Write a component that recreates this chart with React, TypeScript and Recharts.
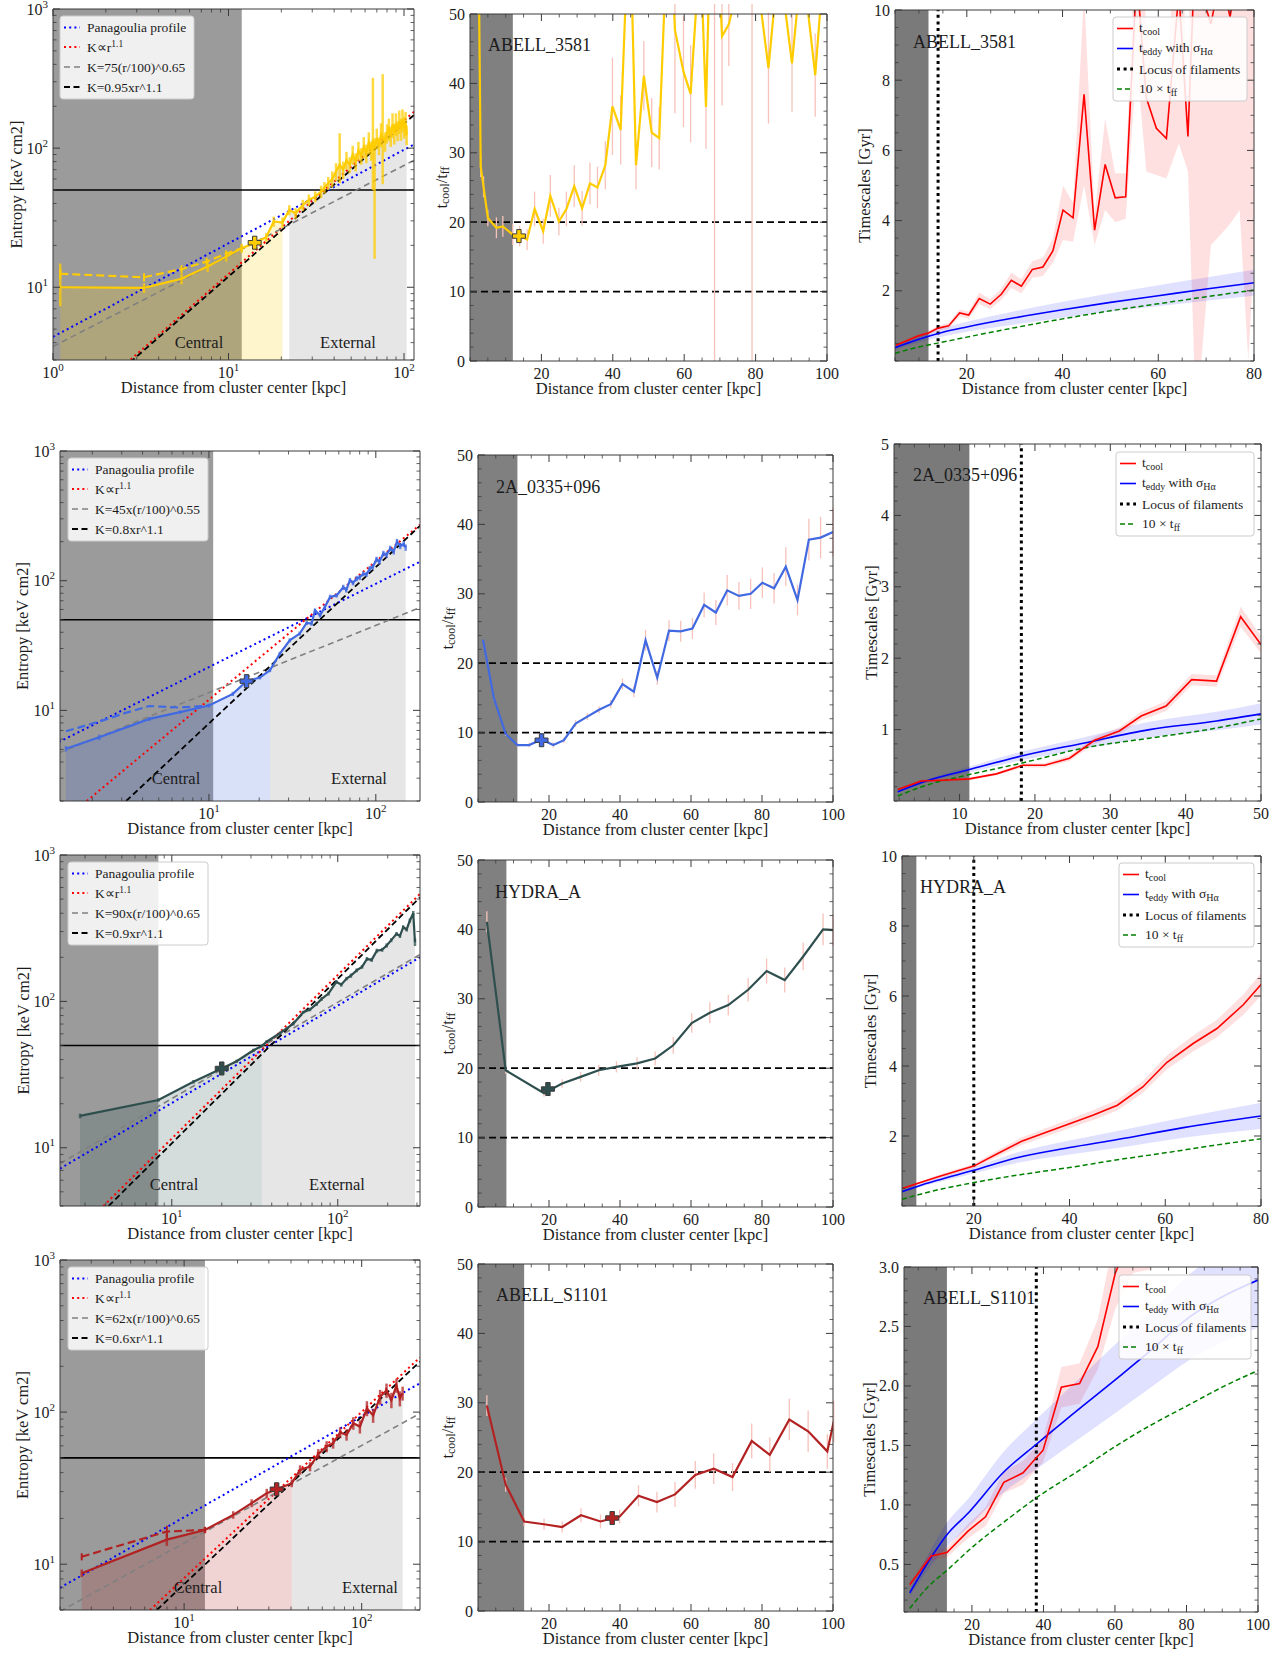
import React from 'react';
import { ComposedChart, Line, Area, XAxis, YAxis, ReferenceLine, ErrorBar } from 'recharts';

const FONT = '"Liberation Serif", "Times New Roman", serif';
const INK = '#1c1c1c';
const EDGE = '#3a3a3a';
const ML = 45;
const MR = 18;
const MT = 10;
const MB = 30;

// ---------- tick labels ----------
const LOG_TICKS = [1, 10, 100, 1000];
const RATIO_X_TICKS = [20, 40, 60, 80, 100];
const RATIO_Y_TICKS = [0, 10, 20, 30, 40, 50];
const TIME_X_80 = [20, 40, 60, 80];
const TIME_X_50 = [10, 20, 30, 40, 50];
const TIME_X_100 = [20, 40, 60, 80, 100];
const TIME_Y_10 = [2, 4, 6, 8, 10];
const TIME_Y_5 = [1, 2, 3, 4, 5];
const TIME_Y_3 = [0.5, 1.0, 1.5, 2.0, 2.5, 3.0];
const RATIO_LINES = [10, 20];
const K_LINE = 50;

// ---------- ABELL_3581 ----------
// r [kpc], K [keV cm2], err low, err high
const A3581_K = [
  [1.1, 10.0, 2.7, 4.8], [3.3, 9.9, 0.8], [5.4, 11.5, 1.0], [7.6, 14.1, 1.2], [9.7, 16.6, 1.3],
  [11.9, 19.1, 1.4], [14.1, 20.9, 1.5], [16.4, 22.9, 1.6], [18.1, 29.7, 2.5], [20.3, 29.2, 2.5],
  [22.2, 35.9, 3], [24.1, 34, 3], [26.5, 39, 3.5], [28.7, 42.4, 4], [31.2, 44.8, 4],
  [33.7, 48.7, 5], [35.2, 52, 5], [37, 56, 6], [39, 60, 8], [41, 68, 10],
  [43, 76, 20, 52], [45, 70, 10], [47, 82, 12], [49, 76, 10], [51, 90, 14],
  [53, 80, 12], [55, 96, 15], [57, 88, 12], [59, 102, 18], [61, 92, 14],
  [63, 110, 20], [65, 96, 15], [66.5, 115, 65, 205], [68, 100, 84, 18], [70, 118, 20],
  [72, 104, 15], [74, 126, 25], [75.6, 120, 65, 220], [78, 112, 18], [80, 128, 20],
  [82, 138, 25], [84, 122, 20], [86, 148, 30], [88, 128, 22], [90, 150, 28],
  [92, 134, 22], [94, 156, 30], [96, 138, 25], [98, 160, 30], [100, 142, 25],
  [102, 152, 30], [103.5, 125, 20],
];
const A3581_K_IN = [[1.1, 12.5, 1.0], [3.3, 11.8, 0.8], [5.4, 13.5, 0.9], [7.5, 15.3, 1.0], [9.7, 17.4, 1.0], [11.9, 19.1, 1.0]];
const A3581_PANAGOULIA = [[1, 4.4], [120, 110]];
const A3581_K11 = [[2.5, 2.7], [120, 193]];
const A3581_FIT_A = [[1, 3.75], [120, 84.5]];
const A3581_FIT_B = [[2.5, 2.6], [120, 183]];
const A3581_RATIO = [
  [2.0, 80, 0], [3.0, 28.0, 1.5], [3.8, 25.1, 1.5], [5.0, 20.6, 1.2], [7.4, 19.2, 1.5],
  [9.2, 19.4, 1.5], [12.0, 18.2, 1.5], [13.9, 18.0, 1.5], [16.0, 17.5, 1.5], [18.1, 21.9, 2.5],
  [20.5, 18.7, 1.8], [22.5, 23.8, 3], [24.9, 20.1, 2], [27.0, 21.9, 2.5], [29.2, 25.2, 3],
  [31.4, 22.0, 2.5], [33.6, 25.6, 3], [35.7, 25.0, 3], [37.9, 28.2, 3.5], [39.9, 36.7, 7],
  [42.2, 33.3, 5], [43.9, 56, 0], [45.2, 56, 0], [46.5, 28.2, 3.5], [48.7, 41.1, 5],
  [50.9, 32.9, 5], [53.0, 32.1, 4.5], [55.5, 65, 0], [56.8, 55, 0], [57.4, 47.7, 12],
  [59.8, 41.7, 8], [61.8, 38.5, 7], [64.5, 60, 0], [66.1, 36.6, 6], [67.5, 65, 0],
  [68.5, 70, 70], [70.6, 46.8, 10], [72.5, 48.5, 6], [75.5, 55, 0], [79.0, 62, 62],
  [81.2, 52, 0], [83.6, 42.2, 8], [86.5, 58, 0], [90.2, 42.9, 7], [93.0, 58, 0],
  [96.7, 41.2, 6], [99.5, 60, 0],
];
const A3581_TCOOL = [
  [5.2, 0.45, 0.42, 0.48], [9.8, 0.71, 0.66, 0.76], [12.0, 0.8, 0.74, 0.86], [13.9, 0.93, 0.86, 1.0],
  [16.2, 1.0, 0.92, 1.08], [18.5, 1.37, 1.27, 1.47], [20.4, 1.31, 1.21, 1.41], [22.6, 1.78, 1.62, 1.95],
  [24.9, 1.62, 1.48, 1.76], [27.2, 1.9, 1.74, 2.06], [29.3, 2.3, 2.08, 2.52], [31.4, 2.13, 1.93, 2.33],
  [33.7, 2.61, 2.37, 2.85], [35.9, 2.68, 2.42, 2.94], [38.0, 3.14, 2.8, 3.5], [40.1, 4.3, 3.45, 5.0],
  [42.2, 4.08, 3.4, 4.5], [44.5, 7.6, 5.0, 10.5], [46.7, 3.73, 3.3, 4.2], [48.9, 5.6, 4.3, 6.9],
  [51.0, 4.65, 3.95, 5.35], [53.2, 4.68, 4.05, 5.35], [55.5, 11.0, 8.5, 13.0], [57.5, 7.5, 5.4, 9.6],
  [59.6, 6.63, 5.3, 8.0], [61.7, 6.34, 5.2, 7.6], [64.3, 10.5, 6.2, 14.0], [66.2, 6.4, 5.4, 7.5],
  [67.5, 11.0, 0, 20], [69.0, 10.5, 0, 20], [71.0, 9.6, 3.3, 12.5], [73.0, 11.0, 3.6, 15.0],
  [75.0, 9.8, 3.9, 12.5], [77.0, 11.5, 4.3, 15.0], [78.8, 10.5, 0, 20], [80.0, 11.0, 3.0, 18.0],
];
const A3581_TEDDY = [
  [5, 0.38, 0.33, 0.43], [10, 0.62, 0.53, 0.71], [15, 0.82, 0.7, 0.94], [20, 0.97, 0.83, 1.12],
  [30, 1.23, 1.04, 1.42], [40, 1.46, 1.23, 1.69], [50, 1.67, 1.41, 1.93], [60, 1.86, 1.56, 2.16],
  [70, 2.05, 1.72, 2.38], [80, 2.23, 1.86, 2.6],
];
const A3581_TFF10 = [[5, 0.22], [10, 0.4], [15, 0.54], [20, 0.68], [30, 0.95], [40, 1.2], [50, 1.43], [60, 1.63], [70, 1.83], [80, 2.02]];

// ---------- 2A_0335+096 ----------
const A0335_K = [
  [1.39, 5.06, 0.25], [2.2, 6.2, 0.3], [4.4, 8.6, 0.3], [6.7, 9.7, 0.3], [10, 10.9, 0.4],
  [13.9, 13.4, 0.5], [16.8, 16.8, 0.6], [20.2, 17.9, 0.6], [23.2, 20.4, 0.7], [26.6, 27.4, 0.9],
  [30.5, 34.7, 1.2], [35, 39.1, 1.4], [38.5, 47.2, 1.6], [41.2, 46.7, 1.8], [43.2, 59, 2],
  [46.3, 54, 2], [49.5, 62.7, 2.5], [53.2, 75, 3], [58.2, 77, 3], [63.8, 89, 4],
  [66.5, 85, 4], [70, 101, 4], [73, 96, 4], [76.8, 104, 5], [80, 106, 5],
  [84, 113, 5], [88, 112, 5], [92, 124, 6], [96, 128, 6], [101, 146, 7],
  [105, 140, 7], [111, 162, 8], [116, 158, 8], [122, 177, 9], [128, 168, 9],
  [134, 200, 10], [140, 185, 10], [147, 192, 10], [151, 180, 10],
];
const A0335_K_IN = [[1.39, 6.9], [2.2, 8.2], [3.2, 9.6], [4.4, 10.8], [6.7, 10.5], [10, 10.9]];
const A0335_PANAGOULIA = [[1.26, 5.7], [184, 140]];
const A0335_K11 = [[1.85, 2.0], [184, 270]];
const A0335_FIT_A = [[1.26, 4.7], [184, 62]];
const A0335_FIT_B = [[3.19, 2.0], [184, 265]];
const A0335_RATIO = [
  [1.4, 23.4, 0], [4.5, 14.9, 0.3], [7.8, 9.8, 0.3], [11.1, 8.2, 0.3], [14.4, 8.2, 0.3],
  [17.9, 9.0, 0.4], [21.2, 8.2, 0.4], [24.2, 8.9, 0.4], [27.5, 11.3, 0.5], [30.8, 12.3, 0.5],
  [34.1, 13.3, 0.5], [37.4, 14.1, 0.6], [40.7, 17.0, 0.8], [43.9, 15.9, 0.8], [47.2, 23.3, 1.5],
  [50.5, 17.9, 1], [53.8, 24.7, 1.5], [57.1, 24.6, 1.5], [60.4, 25.0, 1.5], [63.7, 28.4, 1.8],
  [67, 27.3, 1.8], [70.2, 30.5, 2.2], [73.5, 29.7, 2], [76.8, 30.0, 2.2], [80.1, 31.6, 2.2],
  [83.4, 30.8, 2.2], [86.7, 33.9, 2.8], [90, 29.1, 2.2], [93.2, 37.8, 3], [96.5, 38.1, 3],
  [100, 38.9, 3.5],
];
const A0335_TCOOL = [
  [1.8, 0.16, 0.15, 0.17], [4.9, 0.28, 0.26, 0.3], [7.8, 0.29, 0.27, 0.31], [11.3, 0.31, 0.29, 0.33],
  [14.9, 0.38, 0.36, 0.4], [18.4, 0.5, 0.47, 0.53], [21.3, 0.5, 0.47, 0.53], [24.6, 0.6, 0.56, 0.64],
  [27.9, 0.85, 0.8, 0.9], [31.2, 0.98, 0.93, 1.03], [34.1, 1.19, 1.13, 1.25], [37.4, 1.33, 1.26, 1.4],
  [40.8, 1.7, 1.62, 1.78], [44.1, 1.68, 1.6, 1.76], [47.3, 2.58, 2.44, 2.72], [50, 2.19, 2.07, 2.31],
];
const A0335_TEDDY = [
  [1.8, 0.13, 0.12, 0.14], [5.6, 0.28, 0.26, 0.3], [11.3, 0.44, 0.4, 0.48], [18.2, 0.63, 0.57, 0.69],
  [26.4, 0.81, 0.73, 0.89], [35.2, 1.0, 0.89, 1.11], [44.1, 1.12, 0.99, 1.25], [50, 1.22, 1.07, 1.37],
];
const A0335_TFF10 = [[1.8, 0.07], [5, 0.2], [11.3, 0.37], [18.2, 0.53], [26.4, 0.74], [35.2, 0.88], [44, 1.02], [50, 1.15]];

// ---------- HYDRA_A ----------
const HYDRA_K = [
  [2.8, 16.5, 0.6], [8.3, 21.2, 0.6], [13.5, 28.2, 0.8], [20, 34.8, 1], [24.6, 39, 1],
  [31, 46.3, 1.2], [34.9, 49.6, 1.2], [37.3, 53, 1.3], [45, 60.8, 1.5], [54, 70.4, 2],
  [62, 84.4, 2], [68, 88, 2.5], [74.6, 96, 3], [80, 104, 3], [88, 113, 3.5],
  [98, 136, 4], [105, 130, 4], [113, 143, 4], [120, 150, 5], [130, 163, 5],
  [140, 172, 5], [150, 195, 6], [160, 192, 6], [172, 222, 7], [185, 225, 7],
  [197, 241, 8], [210, 262, 8], [226, 289, 9], [237, 280, 9], [248, 321, 10],
  [260, 310, 10], [272, 357, 12], [285, 400, 15], [292, 254, 15],
];
const HYDRA_PANAGOULIA = [[2.12, 7.2], [313, 200]];
const HYDRA_K11 = [[3.87, 4.0], [313, 542]];
const HYDRA_FIT_A = [[2.12, 7.8], [313, 209]];
const HYDRA_FIT_B = [[4.16, 4.0], [313, 514]];
const HYDRA_RATIO = [
  [2.5, 41.1, 1.5], [7.8, 19.7, 0.5], [18.6, 16.4, 0.5], [23.7, 17.8, 0.6], [28.9, 18.75, 0.7],
  [34, 19.7, 0.8], [39, 20.2, 0.8], [44.8, 20.7, 0.9], [49.9, 21.4, 1], [55, 23.3, 1.2],
  [60.2, 26.5, 1.4], [65.3, 28.0, 1.5], [70.5, 29.1, 1.5], [76.1, 31.3, 1.7], [81.3, 34.0, 1.8],
  [86.4, 32.7, 1.8], [91.6, 36.1, 2], [97.2, 40.0, 2.3], [100, 39.9, 2.3],
];
const HYDRA_TCOOL = [
  [5, 0.5, 0.47, 0.53], [8.2, 0.64, 0.6, 0.68], [12.4, 0.83, 0.78, 0.88], [16.5, 1.0, 0.94, 1.06],
  [20, 1.14, 1.07, 1.21], [25, 1.5, 1.41, 1.59], [30, 1.85, 1.74, 1.96], [35, 2.1, 1.98, 2.22],
  [40, 2.35, 2.22, 2.48], [45, 2.6, 2.46, 2.74], [50, 2.88, 2.73, 3.03], [55.3, 3.4, 3.23, 3.57],
  [60.3, 4.1, 3.9, 4.3], [65.9, 4.65, 4.42, 4.88], [70.8, 5.07, 4.82, 5.32], [76.3, 5.75, 5.46, 6.04],
  [80, 6.33, 6.01, 6.65],
];
const HYDRA_TEDDY = [
  [5, 0.41, 0.38, 0.44], [8.2, 0.56, 0.52, 0.6], [12, 0.72, 0.66, 0.78], [20, 1.02, 0.93, 1.11],
  [29, 1.38, 1.23, 1.53], [40, 1.67, 1.47, 1.87], [50, 1.9, 1.66, 2.14], [63.8, 2.24, 1.95, 2.53],
  [80, 2.57, 2.2, 2.95],
];
const HYDRA_TFF10 = [[5, 0.19], [10, 0.38], [20, 0.67], [30, 0.9], [40, 1.1], [50, 1.32], [60, 1.52], [70, 1.73], [80, 1.92]];

// ---------- ABELL_S1101 ----------
const S1101_K = [
  [2.65, 8.73, 0.5], [7.99, 14.5, 1.3], [13.1, 16.8, 0.8], [18.9, 21.1, 1.2], [24.0, 25.2, 1.5],
  [29.2, 29.3, 2], [33.2, 31.1, 2], [40.4, 34.1, 2], [45, 41.7, 3], [51.2, 43.8, 3],
  [57, 53.1, 4], [63.5, 59.4, 5], [69, 62.5, 5], [75.6, 73.4, 6], [82.2, 70.9, 6],
  [89.7, 84.6, 8], [97.7, 80.3, 8], [107, 106, 12], [116, 95, 10], [127, 126, 14],
  [138, 139, 15], [147, 120, 14], [157, 150, 16], [164, 123, 14], [170, 133, 14],
];
const S1101_K_IN = [[2.65, 11.2, 0.6], [8.0, 16.4, 1.5], [13.1, 16.8, 0.8]];
const S1101_PANAGOULIA = [[2.0, 7.0], [213, 155]];
const S1101_K11 = [[6.43, 5.0], [213, 229]];
const S1101_FIT_A = [[2.0, 4.9], [213, 98]];
const S1101_FIT_B = [[7.02, 5.0], [213, 215]];
const S1101_RATIO = [
  [2.5, 29.6, 1.5], [7.8, 18.2, 1], [13, 12.9, 0.7], [18.6, 12.5, 0.8], [23.7, 12.1, 0.8],
  [29, 13.8, 1], [34.5, 12.9, 1], [39.9, 13.6, 1], [45.2, 16.6, 1.5], [50.4, 15.7, 1.5],
  [55.5, 16.8, 1.8], [61.2, 19.6, 2], [66.4, 20.5, 2.2], [71.7, 19.3, 2], [77.1, 24.5, 2.5],
  [82.2, 22.5, 2.5], [87.7, 27.6, 3], [93, 25.9, 3], [98.4, 23.0, 2.5], [100.2, 27.3, 3],
];
const S1101_TCOOL = [
  [2.6, 0.33, 0.31, 0.35], [8.6, 0.57, 0.53, 0.61], [13, 0.6, 0.56, 0.64], [18.9, 0.78, 0.72, 0.84],
  [23.8, 0.9, 0.82, 0.98], [28.9, 1.19, 1.1, 1.28], [34.3, 1.27, 1.17, 1.37], [37.5, 1.38, 1.28, 1.48],
  [39.9, 1.46, 1.36, 1.56], [45, 1.99, 1.82, 2.16], [50.1, 2.02, 1.85, 2.19], [55.2, 2.33, 2.14, 2.56],
  [60.1, 2.95, 2.65, 3.3], [65, 3.3, 2.95, 3.7], [70, 3.6, 2.98, 4.2],
];
const S1101_TEDDY = [
  [2.6, 0.26, 0.23, 0.29], [8.6, 0.56, 0.49, 0.63], [13, 0.75, 0.65, 0.85], [18.9, 0.93, 0.81, 1.05],
  [28.7, 1.27, 1.1, 1.44], [38, 1.51, 1.3, 1.72], [46.4, 1.72, 1.48, 1.96], [60.4, 2.06, 1.78, 2.36],
  [69.7, 2.29, 1.98, 2.62], [80.9, 2.58, 2.22, 2.94], [100, 2.89, 2.49, 3.3],
];
const S1101_TFF10 = [[2.6, 0.13], [8, 0.32], [13, 0.45], [20.3, 0.65], [30, 0.88], [38, 1.06], [50, 1.29], [60, 1.49], [70, 1.67], [80, 1.83], [90, 1.99], [100, 2.13]];

// ---------- helpers ----------
type Row = number[];
const toPts = (rows: Row[]) => rows.map(([x, y, lo = 0, hi]) => ({ x, y, e: [lo, hi ?? lo] }));
const toXY = (rows: Row[]) => rows.map(([x, y]) => ({ x, y }));
const toBand = (rows: Row[]) => rows.map(([x, , lo, hi]) => ({ x, band: [lo, hi] }));
const within = (rows: Row[], lo: number, hi: number) => rows.filter(([x]) => x >= lo - 1e-9 && x <= hi + 1e-9);

const logMinor = (lo: number, hi: number) => {
  const out: number[] = [];
  for (let d = 1; d <= 1000; d *= 10) for (let k = 2; k <= 9; k++) if (k * d >= lo && k * d <= hi) out.push(k * d);
  return out;
};
const linMinor = (lo: number, hi: number, step: number) => {
  const out: number[] = [];
  for (let v = Math.ceil(lo / step - 1e-9) * step; v <= hi + 1e-9; v += step) out.push(+v.toFixed(6));
  return out;
};
const tickList = (dom: number[], majors: number[], log: boolean, step: number) => {
  const [lo, hi] = dom;
  const minors = log ? logMinor(lo, hi) : linMinor(lo, hi, step);
  const all = [...majors.filter((v) => v >= lo - 1e-9 && v <= hi + 1e-9), ...minors];
  return Array.from(new Set(all.map((v) => +v.toFixed(6)))).sort((a, b) => a - b);
};

const logLabel = (v: number) => (
  <>
    10<tspan dy={-7} fontSize={11}>{Math.round(Math.log10(v))}</tspan>
  </>
);
const plain = (v: number) => String(v);
const oneDec = (v: number) => v.toFixed(1);

function makeTick(side: string, majors: number[], fmt?: (v: number) => React.ReactNode) {
  return (p: any) => {
    const x = Number(p.x);
    const y = Number(p.y);
    const v = Number(p.payload && p.payload.value);
    const major = majors.some((m) => Math.abs(m - v) < 1e-6 * Math.max(1, Math.abs(m)));
    const len = major ? 7 : 3.5;
    const dx = side === 'left' ? len : side === 'right' ? -len : 0;
    const dy = side === 'bottom' ? -len : side === 'top' ? len : 0;
    let label = null;
    if (major && fmt && side === 'bottom')
      label = (
        <text x={x} y={y + 18} textAnchor="middle" fontSize={16} fill={INK} fontFamily={FONT}>
          {fmt(v)}
        </text>
      );
    if (major && fmt && side === 'left')
      label = (
        <text x={x - 5} y={y + 5.5} textAnchor="end" fontSize={16} fill={INK} fontFamily={FONT}>
          {fmt(v)}
        </text>
      );
    return (
      <g>
        <line x1={x} y1={y} x2={x + dx} y2={y + dy} stroke={EDGE} strokeWidth={major ? 1 : 0.8} />
        {label}
      </g>
    );
  };
}

interface AxisSpec {
  xDomain: number[];
  yDomain: number[];
  xLog?: boolean;
  yLog?: boolean;
  xMajor: number[];
  yMajor: number[];
  xStep?: number;
  yStep?: number;
  xFmt: (v: number) => React.ReactNode;
  yFmt: (v: number) => React.ReactNode;
}

// top and right axes get a 1px box (a zero-size axis is not drawn at all)
function axes(s: AxisSpec) {
  const xs = tickList(s.xDomain, s.xMajor, !!s.xLog, s.xStep || 1);
  const ys = tickList(s.yDomain, s.yMajor, !!s.yLog, s.yStep || 1);
  const common = {
    type: 'number' as const,
    allowDataOverflow: true,
    interval: 0 as const,
    tickSize: 0,
    tickMargin: 0,
    tickLine: false,
    axisLine: { stroke: EDGE, strokeWidth: 1 },
  };
  const xs0 = s.xLog ? 'log' : 'linear';
  const ys0 = s.yLog ? 'log' : 'linear';
  return [
    <XAxis key="xb" xAxisId={0} dataKey="x" orientation="bottom" height={MB} scale={xs0 as any} domain={s.xDomain as any} ticks={xs} tick={makeTick('bottom', s.xMajor, s.xFmt)} {...common} />,
    <XAxis key="xt" xAxisId={1} dataKey="x" orientation="top" height={1} scale={xs0 as any} domain={s.xDomain as any} ticks={xs} tick={makeTick('top', s.xMajor)} {...common} />,
    <YAxis key="yl" yAxisId={0} dataKey="y" orientation="left" width={ML} scale={ys0 as any} domain={s.yDomain as any} ticks={ys} tick={makeTick('left', s.yMajor, s.yFmt)} {...common} />,
    <YAxis key="yr" yAxisId={1} orientation="right" width={1} scale={ys0 as any} domain={s.yDomain as any} ticks={ys} tick={makeTick('right', s.yMajor)} {...common} />,
  ];
}
const MARGIN = { top: MT - 1, right: MR - 1, bottom: 0, left: 0 };

const place = (box: number[]) => {
  const [l, t, r, b] = box;
  return { left: l - ML, top: t - MT, W: r - l + ML + MR, H: b - t + MT + MB };
};

const crossDot = (fill: string) => (p: any) => {
  const { cx, cy } = p;
  if (cx == null || cy == null) return <g key="nc" />;
  const a = 6.5;
  const w = 2.2;
  const d = `M${cx - w},${cy - a}H${cx + w}V${cy - w}H${cx + a}V${cy + w}H${cx + w}V${cy + a}H${cx - w}V${cy + w}H${cx - a}V${cy - w}H${cx - w}Z`;
  return <path key="cx" d={d} fill={fill} stroke="#3b3b3b" strokeWidth={1} />;
};

const Overlay = ({ children }: { children: React.ReactNode }) => (
  <svg width={1285} height={1654} style={{ position: 'absolute', left: 0, top: 0, pointerEvents: 'none', overflow: 'visible' }} fontFamily={FONT}>
    {children}
  </svg>
);

const XTitle = ({ box }: { box: number[] }) => (
  <text x={(box[0] + box[2]) / 2} y={box[3] + 33} textAnchor="middle" fontSize={16.5} fill={INK}>
    Distance from cluster center [kpc]
  </text>
);

const YTitle = ({ x, box, children }: { x: number; box: number[]; children: React.ReactNode }) => (
  <text transform={`translate(${x},${(box[1] + box[3]) / 2}) rotate(-90)`} textAnchor="middle" dominantBaseline="central" fontSize={16.5} fill={INK}>
    {children}
  </text>
);

// ---------- entropy panels ----------
interface EntropyCfg {
  box: number[];
  xDomain: number[];
  yDomain: number[];
  color: string;
  zones: number[]; // core, central lo, central hi, external lo, external hi
  data: Row[];
  inner?: Row[];
  pan: Row[];
  k11: Row[];
  fitA: Row[];
  fitB: Row[];
  fitALabel: string;
  fitBLabel: string;
  cross: Row;
  yTitleX: number;
  legend: number[];
  centralAt: number[];
  externalAt: number[];
}

function EntropyPanel({ c }: { c: EntropyCfg }) {
  const { left, top, W, H } = place(c.box);
  const [y0, y1] = c.yDomain;
  const [core, cLo, cHi, eLo, eHi] = c.zones;
  const band = [{ x: c.xDomain[0], y: y1 }, { x: core, y: y1 }];
  const [lx, ly, lw] = c.legend;
  const rows = [11.5, 31, 51, 71];
  return (
    <>
      <div style={{ position: 'absolute', left, top, width: W, height: H }}>
        <ComposedChart width={W} height={H} margin={MARGIN}>
          {axes({ xDomain: c.xDomain, yDomain: c.yDomain, xLog: true, yLog: true, xMajor: LOG_TICKS, yMajor: LOG_TICKS, xFmt: logLabel, yFmt: logLabel })}
          <Area data={band} dataKey="y" baseValue={y0} type="linear" stroke="none" fill="#9b9b9b" fillOpacity={1} isAnimationActive={false} activeDot={false} />
          <Area data={toXY(within(c.data, cLo, cHi))} dataKey="y" baseValue={y0} type="linear" stroke="none" fill={c.color} fillOpacity={0.2} isAnimationActive={false} activeDot={false} />
          <Area data={toXY(within(c.data, eLo, eHi))} dataKey="y" baseValue={y0} type="linear" stroke="none" fill="#808080" fillOpacity={0.2} isAnimationActive={false} activeDot={false} />
          <ReferenceLine y={K_LINE} stroke="#000" strokeWidth={1.6} />
          <Line data={toXY(c.pan)} dataKey="y" type="linear" stroke="#0000ff" strokeWidth={2} strokeDasharray="2 3.2" dot={false} isAnimationActive={false} />
          <Line data={toXY(c.k11)} dataKey="y" type="linear" stroke="#ff0000" strokeWidth={2} strokeDasharray="2 3.2" dot={false} isAnimationActive={false} />
          <Line data={toXY(c.fitA)} dataKey="y" type="linear" stroke="#808080" strokeWidth={1.6} strokeDasharray="6 4" dot={false} isAnimationActive={false} />
          <Line data={toXY(c.fitB)} dataKey="y" type="linear" stroke="#000" strokeWidth={1.8} strokeDasharray="6 3.5" dot={false} isAnimationActive={false} />
          {c.inner ? (
            <Line data={toPts(c.inner)} dataKey="y" type="linear" stroke={c.color} strokeWidth={2.2} strokeDasharray="8 4" dot={false} isAnimationActive={false}>
              <ErrorBar dataKey="e" width={0} stroke={c.color} strokeWidth={2} direction="y" isAnimationActive={false} />
            </Line>
          ) : null}
          <Line data={toPts(c.data)} dataKey="y" type="linear" stroke={c.color} strokeWidth={2.2} dot={false} isAnimationActive={false}>
            <ErrorBar dataKey="e" width={0} stroke={c.color} strokeOpacity={0.75} strokeWidth={2.5} direction="y" isAnimationActive={false} />
          </Line>
          <Line data={toXY([c.cross])} dataKey="y" stroke="none" dot={crossDot(c.color)} isAnimationActive={false} />
        </ComposedChart>
      </div>
      <Overlay>
        <XTitle box={c.box} />
        <YTitle x={c.yTitleX} box={c.box}>Entropy [keV cm2]</YTitle>
        <text x={c.centralAt[0]} y={c.centralAt[1] + 6} textAnchor="middle" fontSize={16.5} fill={INK}>Central</text>
        <text x={c.externalAt[0]} y={c.externalAt[1] + 6} textAnchor="middle" fontSize={16.5} fill={INK}>External</text>
        <rect x={lx} y={ly} width={lw} height={83} rx={3} fill="#fff" fillOpacity={0.85} stroke="#cccccc" />
        <line x1={lx + 4} x2={lx + 20} y1={ly + rows[0]} y2={ly + rows[0]} stroke="#0000ff" strokeWidth={2} strokeDasharray="2 3.2" />
        <line x1={lx + 4} x2={lx + 20} y1={ly + rows[1]} y2={ly + rows[1]} stroke="#ff0000" strokeWidth={2} strokeDasharray="2 3.2" />
        <line x1={lx + 4} x2={lx + 20} y1={ly + rows[2]} y2={ly + rows[2]} stroke="#808080" strokeWidth={1.6} strokeDasharray="6 4" />
        <line x1={lx + 4} x2={lx + 20} y1={ly + rows[3]} y2={ly + rows[3]} stroke="#000" strokeWidth={1.8} strokeDasharray="6 3.5" />
        <text x={lx + 27} y={ly + rows[0] + 4.5} fontSize={13.5} fill={INK}>Panagoulia profile</text>
        <text x={lx + 27} y={ly + rows[1] + 4.5} fontSize={13.5} fill={INK}>
          K∝r<tspan dy={-5} fontSize={9.5}>1.1</tspan>
        </text>
        <text x={lx + 27} y={ly + rows[2] + 4.5} fontSize={13.5} fill={INK}>{c.fitALabel}</text>
        <text x={lx + 27} y={ly + rows[3] + 4.5} fontSize={13.5} fill={INK}>{c.fitBLabel}</text>
      </Overlay>
    </>
  );
}

// ---------- tcool/tff panels ----------
interface RatioCfg {
  name: string;
  box: number[];
  color: string;
  core: number;
  data: Row[];
  cross: Row;
  yTitleX: number;
  titleAt: number[];
}

function RatioPanel({ c }: { c: RatioCfg }) {
  const { left, top, W, H } = place(c.box);
  const pts = toPts(c.data);
  return (
    <>
      <div style={{ position: 'absolute', left, top, width: W, height: H }}>
        <ComposedChart width={W} height={H} margin={MARGIN}>
          {axes({ xDomain: [0, 100], yDomain: [0, 50], xMajor: RATIO_X_TICKS, yMajor: RATIO_Y_TICKS, xStep: 5, yStep: 2, xFmt: plain, yFmt: plain })}
          <Area data={[{ x: 0, y: 50 }, { x: c.core, y: 50 }]} dataKey="y" baseValue={0} type="linear" stroke="none" fill="#808080" fillOpacity={1} isAnimationActive={false} activeDot={false} />
          {RATIO_LINES.map((v) => (
            <ReferenceLine key={v} y={v} stroke="#000" strokeWidth={1.8} strokeDasharray="7 4" />
          ))}
          <Line data={pts} dataKey="y" stroke="none" dot={false} isAnimationActive={false}>
            <ErrorBar dataKey="e" width={0} stroke="#f6c2ba" strokeWidth={1.3} direction="y" isAnimationActive={false} />
          </Line>
          <Line data={pts} dataKey="y" type="linear" stroke={c.color} strokeWidth={2.2} dot={false} isAnimationActive={false} />
          <Line data={toXY([c.cross])} dataKey="y" stroke="none" dot={crossDot(c.color)} isAnimationActive={false} />
        </ComposedChart>
      </div>
      <Overlay>
        <XTitle box={c.box} />
        <YTitle x={c.yTitleX} box={c.box}>
          t<tspan dy={4} fontSize={12}>cool</tspan>
          <tspan dy={-4}>/t</tspan>
          <tspan dy={4} fontSize={12}>ff</tspan>
        </YTitle>
        <text x={c.titleAt[0]} y={c.titleAt[1] + 6} fontSize={18} fill={INK}>{c.name}</text>
      </Overlay>
    </>
  );
}

// ---------- timescale panels ----------
interface TimeCfg {
  name: string;
  box: number[];
  xDomain: number[];
  yDomain: number[];
  xTicks: number[];
  yTicks: number[];
  xStep: number;
  yStep: number;
  yFmt: (v: number) => React.ReactNode;
  core: number;
  locus: number;
  tcool: Row[];
  teddy: Row[];
  tff: Row[];
  yTitleX: number;
  titleAt: number[];
  legend: number[];
}

function TimePanel({ c }: { c: TimeCfg }) {
  const { left, top, W, H } = place(c.box);
  const [y0, y1] = c.yDomain;
  const [lx, ly, lw] = c.legend;
  const rows = [11.5, 31.5, 52, 72];
  return (
    <>
      <div style={{ position: 'absolute', left, top, width: W, height: H }}>
        <ComposedChart width={W} height={H} margin={MARGIN}>
          {axes({ xDomain: c.xDomain, yDomain: c.yDomain, xMajor: c.xTicks, yMajor: c.yTicks, xStep: c.xStep, yStep: c.yStep, xFmt: plain, yFmt: c.yFmt })}
          <Area data={[{ x: c.xDomain[0], y: y1 }, { x: c.core, y: y1 }]} dataKey="y" baseValue={y0} type="linear" stroke="none" fill="#7a7a7a" fillOpacity={1} isAnimationActive={false} activeDot={false} />
          <Area data={toBand(c.tcool)} dataKey="band" type="linear" stroke="none" fill="#ff0000" fillOpacity={0.12} isAnimationActive={false} activeDot={false} />
          <Area data={toBand(c.teddy)} dataKey="band" type="monotone" stroke="none" fill="#0000ff" fillOpacity={0.12} isAnimationActive={false} activeDot={false} />
          <ReferenceLine x={c.locus} stroke="#000" strokeWidth={3} strokeDasharray="3 3.6" />
          <Line data={toXY(c.tff)} dataKey="y" type="monotone" stroke="#008000" strokeWidth={1.5} strokeDasharray="5 3" dot={false} isAnimationActive={false} />
          <Line data={toXY(c.teddy)} dataKey="y" type="monotone" stroke="#0000ff" strokeWidth={1.6} dot={false} isAnimationActive={false} />
          <Line data={toXY(c.tcool)} dataKey="y" type="linear" stroke="#ff0000" strokeWidth={1.6} dot={false} isAnimationActive={false} />
        </ComposedChart>
      </div>
      <Overlay>
        <XTitle box={c.box} />
        <YTitle x={c.yTitleX} box={c.box}>Timescales [Gyr]</YTitle>
        <text x={c.titleAt[0]} y={c.titleAt[1] + 6} fontSize={18} fill={INK}>{c.name}</text>
        <rect x={lx} y={ly} width={lw} height={84} rx={3} fill="#fff" fillOpacity={0.85} stroke="#cccccc" />
        <line x1={lx + 4} x2={lx + 20} y1={ly + rows[0]} y2={ly + rows[0]} stroke="#ff0000" strokeWidth={1.6} />
        <line x1={lx + 4} x2={lx + 20} y1={ly + rows[1]} y2={ly + rows[1]} stroke="#0000ff" strokeWidth={1.6} />
        <line x1={lx + 4} x2={lx + 20} y1={ly + rows[2]} y2={ly + rows[2]} stroke="#000" strokeWidth={3} strokeDasharray="3 3.6" />
        <line x1={lx + 4} x2={lx + 20} y1={ly + rows[3]} y2={ly + rows[3]} stroke="#008000" strokeWidth={1.5} strokeDasharray="5 3" />
        <text x={lx + 26} y={ly + rows[0] + 3.5} fontSize={13.5} fill={INK}>
          t<tspan dy={3} fontSize={10}>cool</tspan>
        </text>
        <text x={lx + 26} y={ly + rows[1] + 3.5} fontSize={13.5} fill={INK}>
          t<tspan dy={3} fontSize={10}>eddy</tspan>
          <tspan dy={-3}> with σ</tspan>
          <tspan dy={3} fontSize={10}>Hα</tspan>
        </text>
        <text x={lx + 26} y={ly + rows[2] + 4.5} fontSize={13.5} fill={INK}>Locus of filaments</text>
        <text x={lx + 26} y={ly + rows[3] + 3.5} fontSize={13.5} fill={INK}>
          10 × t<tspan dy={3} fontSize={10}>ff</tspan>
        </text>
      </Overlay>
    </>
  );
}

// ---------- panel set-up ----------
const ENTROPY: EntropyCfg[] = [
  {
    box: [53, 9, 414, 360], xDomain: [1, 114], yDomain: [3, 1000], color: '#FFCC00',
    zones: [11.9, 1.1, 20.4, 22.2, 103.5], data: A3581_K, inner: A3581_K_IN,
    pan: A3581_PANAGOULIA, k11: A3581_K11, fitA: A3581_FIT_A, fitB: A3581_FIT_B,
    fitALabel: 'K=75(r/100)^0.65', fitBLabel: 'K=0.95xr^1.1', cross: [14.1, 20.9],
    yTitleX: 16, legend: [60, 16, 134], centralAt: [199, 342], externalAt: [348, 342],
  },
  {
    box: [60, 451, 420, 801], xDomain: [1.28, 184], yDomain: [2, 1000], color: '#4169E1',
    zones: [10.6, 1.39, 23.2, 23.2, 151], data: A0335_K, inner: A0335_K_IN,
    pan: A0335_PANAGOULIA, k11: A0335_K11, fitA: A0335_FIT_A, fitB: A0335_FIT_B,
    fitALabel: 'K=45x(r/100)^0.55', fitBLabel: 'K=0.8xr^1.1', cross: [16.8, 16.8],
    yTitleX: 22, legend: [68, 458, 140], centralAt: [176, 778], externalAt: [359, 778],
  },
  {
    box: [60, 855, 420, 1206], xDomain: [2.12, 313], yDomain: [4, 1000], color: '#2F4F4F',
    zones: [8.3, 2.8, 34.9, 34.9, 292], data: HYDRA_K,
    pan: HYDRA_PANAGOULIA, k11: HYDRA_K11, fitA: HYDRA_FIT_A, fitB: HYDRA_FIT_B,
    fitALabel: 'K=90x(r/100)^0.65', fitBLabel: 'K=0.9xr^1.1', cross: [20, 34.8],
    yTitleX: 23, legend: [68, 862, 140], centralAt: [174, 1184], externalAt: [337, 1184],
  },
  {
    box: [60, 1260, 420, 1610], xDomain: [2.0, 213], yDomain: [5, 1000], color: '#B22222',
    zones: [13.1, 2.65, 40.4, 40.4, 170], data: S1101_K, inner: S1101_K_IN,
    pan: S1101_PANAGOULIA, k11: S1101_K11, fitA: S1101_FIT_A, fitB: S1101_FIT_B,
    fitALabel: 'K=62x(r/100)^0.65', fitBLabel: 'K=0.6xr^1.1', cross: [33.2, 31.1],
    yTitleX: 22, legend: [68, 1267, 140], centralAt: [198, 1587], externalAt: [370, 1587],
  },
];

const RATIO: RatioCfg[] = [
  { name: 'ABELL_3581', box: [470, 14, 827, 361], color: '#FFCC00', core: 12.0, data: A3581_RATIO, cross: [13.7, 18.0], yTitleX: 441, titleAt: [488, 45] },
  { name: '2A_0335+096', box: [478, 455, 833, 802], color: '#4169E1', core: 11.1, data: A0335_RATIO, cross: [17.9, 8.9], yTitleX: 447, titleAt: [496, 487] },
  { name: 'HYDRA_A', box: [478, 860, 833, 1207], color: '#2F4F4F', core: 8.0, data: HYDRA_RATIO, cross: [19.7, 17.0], yTitleX: 447, titleAt: [495, 892] },
  { name: 'ABELL_S1101', box: [478, 1264, 833, 1611], color: '#B22222', core: 13.0, data: S1101_RATIO, cross: [37.8, 13.4], yTitleX: 447, titleAt: [496, 1295] },
];

const TIME: TimeCfg[] = [
  {
    name: 'ABELL_3581', box: [895, 10, 1254, 361], xDomain: [5, 80], yDomain: [0, 10], xTicks: TIME_X_80, yTicks: TIME_Y_10,
    xStep: 5, yStep: 0.5, yFmt: plain, core: 12.0, locus: 14, tcool: A3581_TCOOL, teddy: A3581_TEDDY, tff: A3581_TFF10,
    yTitleX: 864, titleAt: [913, 42], legend: [1113, 17, 134],
  },
  {
    name: '2A_0335+096', box: [894, 444, 1261, 801], xDomain: [1.3, 50], yDomain: [0, 5], xTicks: TIME_X_50, yTicks: TIME_Y_5,
    xStep: 2, yStep: 0.2, yFmt: plain, core: 11.3, locus: 18.2, tcool: A0335_TCOOL, teddy: A0335_TEDDY, tff: A0335_TFF10,
    yTitleX: 871, titleAt: [913, 475], legend: [1116, 452, 138],
  },
  {
    name: 'HYDRA_A', box: [902, 856, 1261, 1206], xDomain: [5, 80], yDomain: [0, 10], xTicks: TIME_X_80, yTicks: TIME_Y_10,
    xStep: 5, yStep: 0.5, yFmt: plain, core: 8.0, locus: 20, tcool: HYDRA_TCOOL, teddy: HYDRA_TEDDY, tff: HYDRA_TFF10,
    yTitleX: 870, titleAt: [920, 887], legend: [1119, 863, 135],
  },
  {
    name: 'ABELL_S1101', box: [904, 1267, 1258, 1612], xDomain: [1, 100], yDomain: [0.1, 3.0], xTicks: TIME_X_100, yTicks: TIME_Y_3,
    xStep: 5, yStep: 0.1, yFmt: oneDec, core: 13.0, locus: 38, tcool: S1101_TCOOL, teddy: S1101_TEDDY, tff: S1101_TFF10,
    yTitleX: 869, titleAt: [923, 1298], legend: [1119, 1275, 132],
  },
];

export default function App() {
  return (
    <div style={{ position: 'absolute', left: 0, top: 0, width: 1285, height: 1654, background: '#fff', fontFamily: FONT }}>
      {ENTROPY.map((c, i) => (
        <EntropyPanel key={`e${i}`} c={c} />
      ))}
      {RATIO.map((c, i) => (
        <RatioPanel key={`r${i}`} c={c} />
      ))}
      {TIME.map((c, i) => (
        <TimePanel key={`t${i}`} c={c} />
      ))}
    </div>
  );
}
